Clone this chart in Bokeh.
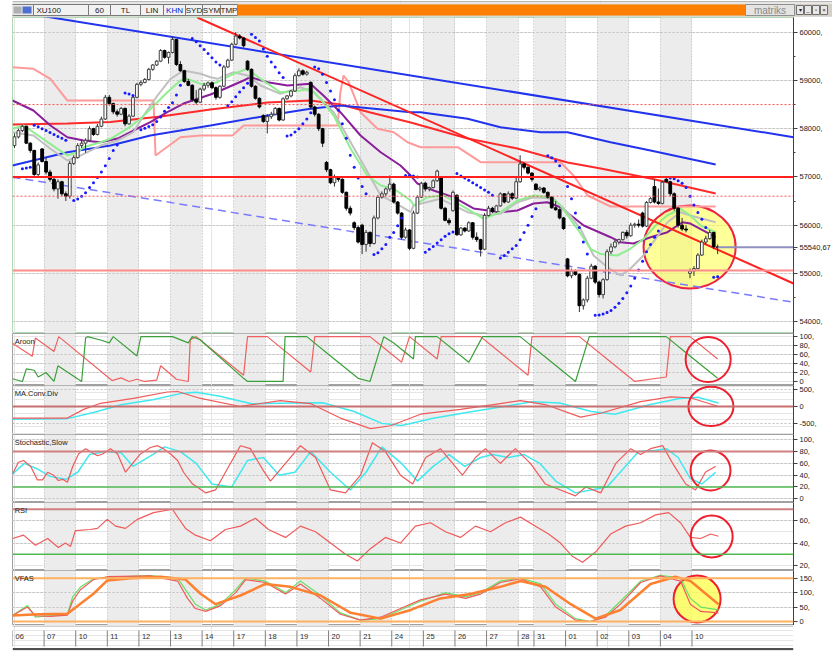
import numpy as np
from bokeh.plotting import figure
from bokeh.layouts import column
from bokeh.models import Range1d, FixedTicker, LinearAxis, Grid, BoxAnnotation, Span, Label
from bokeh.embed import file_html
from bokeh.resources import INLINE
from bokeh.core.properties import value

FONT = "Liberation Sans"

# ---------------- data ----------------
day_labels = ["06", "07", "10", "11", "12", "13", "14", "17", "18", "19", "20", "21",
              "24", "25", "26", "27", "28", "31", "01", "02", "03", "04", "10"]
day_start = [0, 8, 16, 24, 32, 40, 48, 56, 64, 72, 80, 88, 96, 104, 112, 120, 128,
             132, 140, 148, 156, 164, 172]

opens = [57650, 57830, 57960, 58050, 57700, 57550, 57050, 57580,
         57320, 57100, 56950, 56750, 56900, 56650, 56600, 57280,
         57400, 57650, 57700, 57760, 58000, 57880, 58050, 58200,
         58650, 58520, 58350, 58300, 58420, 58100, 58260, 58650,
         58920, 58960, 59020, 59230, 59320, 59400, 59620, 59480,
         59580, 59850, 59330, 59200, 58980, 58900, 58600, 58550,
         58820, 58900, 58950, 58850, 58650, 58880, 59280, 59420,
         59750, 59920, 59880, 59400, 59230, 58880, 58630, 58270,
         58150, 58250, 58300, 58420, 58180, 58620, 58680, 58780,
         59100, 59200, 59130, 58960, 58450, 58300, 58000, 57300,
         57150, 56880, 57000, 56950, 56680, 56350, 56050, 55950,
         56000, 55600, 55850, 55620, 56150, 56580, 56650, 56750,
         56850, 56480, 56250, 55750, 55900, 55520, 56250, 56580,
         56870, 56750, 56780, 56920, 57000, 56350, 56100, 56300,
         56620, 55800, 55940, 55880, 56050, 55750, 55700, 55500,
         56200, 56350, 56280, 56400, 56650, 56480, 56650, 56560,
         56900, 57270, 57200, 57080,
         56850, 56740, 56770, 56680, 56580, 56360, 56320, 56150,
         55300, 54950, 55050, 54980, 54330, 54450, 54900, 55150,
         54820, 54560, 54870, 55450, 55550, 55650, 55700, 55850,
         55780, 56000, 56020, 56250, 55980, 56470, 56800, 56480,
         56450, 56950, 56900, 56650, 56350, 56000, 55920, 55000,
         55050, 55100, 55380, 55650, 55720, 55850, 55550]
highs = [57900, 58000, 58080, 58060, 57720, 57560, 57300, 57600,
         57400, 57150, 57000, 56950, 56920, 56700, 57330, 57450,
         57700, 57760, 57800, 58050, 58020, 58100, 58250, 58700,
         58700, 58540, 58400, 58450, 58440, 58300, 58700, 58950,
         59000, 59050, 59260, 59340, 59420, 59650, 59640, 59600,
         59900, 59860, 59400, 59220, 59030, 58920, 58800, 58850,
         58950, 58980, 58980, 58880, 58900, 59320, 59450, 59780,
         60000, 59960, 59900, 59420, 59250, 58900, 58650, 58300,
         58300, 58350, 58450, 58440, 58650, 58700, 58800, 59150,
         59250, 59230, 59200, 58980, 58480, 58320, 58020, 57330,
         57170, 57050, 57020, 56970, 56700, 56400, 56080, 55990,
         56030, 55900, 55870, 56200, 56620, 56700, 56780, 57030,
         56880, 56500, 56270, 55950, 55920, 56300, 56620, 56900,
         56900, 56800, 56950, 57150, 57020, 56380, 56150, 56720,
         56640, 55960, 55960, 56080, 56060, 55850, 55720, 56250,
         56400, 56380, 56420, 56680, 56660, 56700, 56680, 56980,
         57450, 57300, 57220, 57100,
         56870, 56800, 56790, 56700, 56600, 56500, 56350, 56170,
         55320, 55100, 55080, 55000, 54480, 54950, 55200, 55170,
         54850, 54900, 55500, 55620, 55700, 55720, 55870, 55900,
         56050, 56050, 56120, 56280, 56500, 56580, 56950, 56760,
         56920, 56980, 56920, 56680, 56380, 56150, 56000, 55100,
         55150, 55420, 55700, 55780, 55900, 55860, 55600]
lows = [57600, 57800, 57930, 57680, 57500, 57000, 56980, 57300,
        57050, 56900, 56700, 56550, 56600, 56500, 56550, 57250,
        57380, 57600, 57500, 57740, 57850, 57860, 58030, 58180,
        58480, 58300, 58250, 58280, 58050, 58080, 58240, 58630,
        58880, 58940, 59000, 59200, 59300, 59380, 59450, 59350,
        59560, 59300, 59180, 58950, 58880, 58560, 58500, 58530,
        58780, 58850, 58820, 58600, 58620, 58860, 59260, 59400,
        59730, 59850, 59680, 59200, 58850, 58600, 58420, 58120,
        57900, 58200, 58280, 58150, 58160, 58600, 58650, 58760,
        59080, 59100, 59100, 58400, 58250, 57950, 57620, 57100,
        56850, 56800, 56900, 56650, 56300, 56200, 55900, 55620,
        55400, 55450, 55550, 55600, 56120, 56550, 56600, 56700,
        56450, 56220, 55700, 55720, 55480, 55500, 56230, 56560,
        56700, 56700, 56760, 56900, 56320, 56080, 56000, 56280,
        55780, 55780, 55850, 55860, 55700, 55650, 55350, 55480,
        56180, 56250, 56260, 56380, 56450, 56460, 56520, 56540,
        56880, 57150, 57050, 56900,
        56720, 56700, 56650, 56550, 56340, 56300, 56120, 55900,
        54920, 54900, 54950, 54200, 54250, 54400, 54880, 54780,
        54500, 54480, 54850, 55400, 55520, 55600, 55680, 55720,
        55760, 55950, 55950, 55950, 55960, 56450, 56450, 56420,
        56430, 56880, 56600, 56300, 55950, 55880, 55850, 54900,
        54950, 55080, 55360, 55600, 55700, 55500, 55400]
closes = [57830, 57960, 58050, 57700, 57550, 57050, 57250, 57320,
          57100, 56950, 56750, 56900, 56650, 56600, 57280, 57400,
          57650, 57700, 57760, 58000, 57880, 58050, 58200, 58650,
          58520, 58350, 58300, 58420, 58100, 58260, 58650, 58920,
          58960, 59020, 59230, 59320, 59400, 59620, 59480, 59580,
          59850, 59330, 59200, 58980, 58900, 58600, 58550, 58820,
          58900, 58950, 58850, 58650, 58880, 59280, 59420, 59750,
          59920, 59880, 59720, 59230, 58880, 58630, 58450, 58150,
          58250, 58300, 58420, 58180, 58620, 58680, 58780, 59100,
          59200, 59130, 59170, 58450, 58300, 58000, 57700, 57150,
          56880, 57000, 56950, 56680, 56350, 56250, 55950, 55650,
          55600, 55850, 55620, 56150, 56580, 56650, 56750, 56850,
          56480, 56250, 55750, 55900, 55520, 56250, 56580, 56870,
          56750, 56780, 56920, 57120, 56350, 56100, 56050, 56680,
          55800, 55940, 55880, 56050, 55750, 55700, 55500, 56200,
          56350, 56280, 56400, 56650, 56480, 56650, 56560, 56900,
          57270, 57200, 57080, 56950,
          56740, 56770, 56680, 56580, 56360, 56320, 56150, 55930,
          54950, 55050, 54980, 54330, 54450, 54900, 55150, 54820,
          54560, 54870, 55450, 55550, 55650, 55700, 55850, 55780,
          56000, 56020, 56000, 55980, 56470, 56550, 56480, 56450,
          56890, 56900, 56650, 56350, 56000, 55920, 55900, 55050,
          55100, 55380, 55650, 55720, 55850, 55550, 55540]
last_price = 55540.67

# moving averages (bar position, value)
green_ma_x = [-0.5, 2.3, 8.4, 10.9, 13.4, 15.9, 17.5, 21.8, 24.3, 28.5, 31.9, 35.3, 38.7, 42, 43.7,
              47.1, 49.6, 51.3, 55.5, 58.9, 62.3, 67.3, 72.4, 74.9, 77.5, 80.8, 85.1, 89.3, 92.7,
              96, 100.3, 101.1, 104.5, 108.7, 114.6, 118.8, 123, 127.3, 131.5, 135.7, 138.2,
              142.5, 145.8, 148.4, 152.6, 155.9, 159.3, 162.3, 165.2, 168.6, 171.1, 173.7, 177.5]
green_ma_y = [57997, 58066, 57720, 57583, 57444, 57512, 57616, 57720, 57790, 57997, 58205, 58481,
              58756, 58999, 59034, 58930, 58930, 58964, 59138, 59241, 59034, 58756, 58791, 58827,
              58619, 58273, 57583, 57029, 56822, 56754, 56511, 56408, 56580, 56615, 56339, 56132,
              56269, 56511, 56615, 56580, 56408, 55924, 55510, 55400, 55371, 55510, 55717, 55993,
              56200, 56339, 56200, 55993, 55854]
gray_ma_x = [-0.5, 4.8, 9.1, 13.4, 15.9, 21.8, 26.1, 30.1, 32.7, 36.2, 39.5, 42.8, 47.1, 49.6, 51.4,
             55.4, 59, 62.3, 67.3, 72.4, 75.7, 80.8, 85.1, 89.4, 92.7, 96, 100.3, 101, 107.8,
             114.7, 118.7, 123, 127.3, 131.4, 136.5, 140, 143.3, 146.6, 150.1, 153.4, 155.9,
             159.2, 162.3, 165.3, 168.6, 171.1, 177.5]
gray_ma_y = [57927, 57859, 57583, 57340, 57409, 57651, 57755, 57927, 58273, 58688, 59034, 59206,
             59138, 59067, 59034, 59171, 59102, 58895, 58723, 58860, 58756, 58342, 57720, 57098,
             56615, 56476, 56269, 56408, 56546, 56269, 56200, 56235, 56476, 56580, 56546, 56269,
             55924, 55371, 55129, 54956, 55095, 55371, 55717, 56061, 56269, 56200, 56061]
purple_ma_x = [-0.5, 4.8, 9.1, 13.4, 17.5, 21.8, 26.1, 30.1, 34.4, 38.7, 42.8, 49.6, 52.2, 58, 59.7,
               64.1, 69.1, 74.9, 78.2, 82.5, 87.6, 92.7, 97.7, 100.3, 102, 106.1, 111.1, 116.2,
               123, 127.3, 131.4, 134.9, 138.2, 144.1, 150.9, 153.4, 156.7, 161, 165.3, 169.1,
               171.1, 177.5]
purple_ma_y = [58584, 58377, 58066, 57823, 57755, 57720, 57796, 57962, 58134, 58342, 58522, 58709,
               58791, 58999, 59067, 58964, 58895, 58930, 58688, 58342, 57859, 57512, 57237, 57029,
               56863, 56718, 56580, 56346, 56269, 56304, 56449, 56476, 56372, 55993, 55750, 55647,
               55620, 55750, 55854, 56061, 56034, 55750]
red_ma_x = [-0.5, 13.4, 24.3, 37, 49.6, 64.1, 74.9, 82.5, 90.1, 100.3, 114.7, 127.3, 140, 148.4,
            161, 177.5]
red_ma_y = [58087, 58107, 58138, 58252, 58398, 58543, 58584, 58501, 58335, 58128, 57796, 57589,
            57299, 57175, 56967, 56656]
blue_ma_x = [-0.5, 13.4, 24.3, 34.4, 49.6, 64.1, 74.9, 82.5, 100.3, 102.8, 114.7, 123, 133.2, 140,
             150.9, 161, 177.5]
blue_ma_y = [57237, 57512, 57651, 57859, 58066, 58273, 58412, 58481, 58342, 58342, 58205, 58031,
             57927, 57927, 57720, 57548, 57257]
stop_x = [-0.5, 4.8, 9.1, 13.4, 35.2, 35.7, 42, 47.1, 55.2, 58, 81.8, 82.5, 83.3, 84.6, 87.6, 91.9,
          96, 99.5, 102.8, 112.2, 118, 138.2, 141.5, 145.1, 150.9, 177.5]
stop_y = [59274, 59241, 59034, 58584, 58584, 57444, 57823, 57859, 57859, 58066, 58066, 58756,
          59102, 58964, 58342, 57997, 57927, 57720, 57616, 57616, 57305, 57305, 57029, 56615,
          56387, 56387]

# parabolic SAR segments: first bar and consecutive values
sar_start = [2, 5, 15, 28, 32, 45, 54, 60, 69, 76, 91, 99, 104, 112, 123, 135, 147, 166, 177]
sar_vals = [
    [57170, 57185, 57200],
    [58070, 58040, 58000, 57960, 57920, 57880, 57840, 57800, 57760],
    [56510, 56540, 56600, 56670, 56780, 56880, 56990, 57100, 57230, 57380, 57550, 57660],
    [58740, 58720, 58690],
    [57980, 58010, 58045, 58080, 58150, 58240, 58360, 58440, 58540, 58700, 58900],
    [59870, 59800, 59720, 59640, 59560, 59470, 59380, 59320],
    [58480, 58560, 58660, 58760, 58850, 58940],
    [59960, 59890, 59820, 59650, 59500, 59380, 59280, 59160, 59060],
    [57850, 57870, 57930, 58000, 58100, 58200, 58330],
    [59280, 59240, 59130, 58960, 58780, 58600, 58380, 58100, 57800, 57450, 57200, 56980, 56800, 56650],
    [55390, 55430, 55510, 55600, 55750, 55850, 55990, 56150],
    [57030, 57030, 57020, 57000],
    [55440, 55500, 55560, 55630, 55700, 55770, 55820, 55860],
    [57070, 57020, 56980, 56930, 56880, 56830, 56780, 56730, 56680, 56620],
    [55320, 55370, 55440, 55510, 55580, 55700, 55850, 56000, 56180, 56340],
    [57440, 57400, 57330, 57230, 57000, 56800, 56550, 56250, 55950, 55650, 55400],
    [54130, 54140, 54160, 54190, 54230, 54300, 54380, 54480, 54600, 54740, 54900, 55070, 55250,
     55450, 55600, 55750, 55880],
    [56980, 56960, 56920, 56870, 56780, 56600, 56420, 56260, 56120, 55950],
    [54920, 54930],
]

# trend lines (bar, value) end points
blue_trend = ([6.0, 197.2], [60350, 57824])
red_trend = ([46.3, 197.2], [60305, 54790])
blue_dash_trend = ([-0.5, 197.2], [56994, 54403])
red_level = 57000
pink_level = 55060
dotted_levels = [58500, 56600]

# indicators
aroon_dn_x = [-0.5, 4.5, 5.3, 10, 11.2, 24.7, 27, 29, 31, 33, 36, 37, 41, 44, 44.5, 46, 58, 59, 64, 75,
              76, 90, 92, 98, 100, 107, 108, 118, 123, 130, 131, 143, 150, 157, 165, 166, 171, 178]
aroon_dn_y = [85, 56, 97, 67, 100, 2, 8, 0, 5, 0, 3, 35, 5, 0, 93, 100, 14, 100, 100, 21,
              100, 100, 86, 43, 100, 50, 100, 100, 64, 14, 100, 100, 50, 0, 10, 100, 100, 50]
aroon_up_x = [-0.5, 2, 3, 5, 6, 8, 10, 11, 17, 18, 18.5, 22, 24, 25, 31, 32, 40, 44, 45, 47,
              58, 59, 68, 68.5, 74, 80, 87, 90, 93.5, 96, 101, 101.5, 107, 115, 118.5, 128, 135, 142,
              145.5, 165, 171, 178]
aroon_up_y = [6, 0, 28, 25, 10, 20, 0, 35, 0, 97, 100, 92, 86, 100, 57, 100, 100, 86, 100, 93,
              7, 0, 0, 100, 100, 57, 7, 0, 100, 86, 50, 100, 100, 43, 100, 100, 50, 0,
              100, 100, 57, 7]
macd_x = [-0.5, 13.4, 17.5, 21.8, 30.1, 38.7, 41.3, 47.1, 57.2, 67.3, 74.9, 82.5, 90.1, 95.2, 102.8,
          112.9, 123, 128.1, 134.4, 143.3, 148.4, 158.5, 166.1, 171.1, 178.2]
macd_y = [-343, -343, -86, 94, 237, 428, 443, 237, 0, 171, 86, -343, -657, -571, -229, -86, 86,
          171, 57, -314, -200, 143, 286, 257, 0]
signal_x = [-0.5, 13.4, 20, 27, 35, 42, 46, 52, 60, 70, 78, 86, 93, 98, 106, 116, 125, 131, 138, 146,
            152, 161, 168, 173, 178.2]
signal_y = [-380, -360, -180, 50, 200, 380, 420, 300, 80, 100, 110, -150, -500, -560, -350, -150,
            20, 140, 100, -150, -230, 60, 230, 270, 100]
stoch_k_x = [-0.5, 1, 2.3, 4.1, 5.8, 7.1, 8.4, 9.9, 11.1, 12.2, 13.4, 14.7, 16.2, 18, 19.2, 21, 22.3,
             24.3, 26.1, 28.1, 29.9, 31.9, 34.4, 36.2, 37.7, 39.5, 41.3, 42.8, 45.1, 46.3, 48.4, 50.9,
             53.4, 57.2, 59.7, 62.8, 64.8, 68.6, 72.4, 76.2, 80, 83.8, 87.6, 90.6, 93.9, 97.7, 100.8,
             104.1, 107.8, 110.9, 113.4, 116.7, 119.2, 123, 126.8, 130.6, 134.4, 138.2, 142, 144.6,
             148.4, 152.2, 156, 158.5, 161, 164.1, 166.6, 169.9, 172.4, 174.9, 177.5]
stoch_k_y = [42, 62, 65, 55, 32, 32, 45, 40, 31, 33, 28, 54, 76, 85, 80, 73, 76, 85, 76, 45,
             60, 76, 87, 90, 85, 76, 65, 45, 25, 20, 10, 15, 45, 90, 85, 50, 30, 60, 90, 70,
             15, 10, 40, 95, 80, 40, 25, 70, 85, 60, 40, 70, 85, 60, 85, 60, 25, 15, 5, 20,
             10, 60, 85, 75, 85, 90, 60, 25, 15, 45, 55]
stoch_d_x = [-0.5, 2.5, 6, 9, 13, 16, 19, 23, 27, 30, 35, 38, 42, 46, 50, 55, 59, 63, 67, 71,
             75, 80, 85, 89, 93, 98, 102, 106, 110, 114, 118, 121, 125, 129, 133, 137, 142, 146,
             150, 154, 158, 162, 165, 168, 171, 174, 177.5]
stoch_d_y = [42, 60, 50, 38, 33, 45, 75, 80, 78, 55, 75, 88, 80, 60, 25, 20, 65, 70, 40, 45,
             80, 45, 15, 45, 88, 60, 30, 55, 75, 55, 70, 75, 70, 75, 60, 30, 10, 15, 20, 50,
             80, 82, 85, 70, 35, 25, 45]
rsi_x = [-0.5, 2.3, 5.3, 8.4, 11.1, 12.9, 14.2, 15.4, 19.2, 21, 23.5, 25.6, 28.1, 31.1, 35.2, 40,
         41.5, 43.3, 45.8, 49.6, 53.4, 57.2, 61, 64.3, 68.6, 72.4, 76.2, 80, 83.8, 86.8, 90.1,
         93.9, 97.7, 101.5, 105.3, 109.1, 112.9, 116.7, 120.5, 124.3, 128.1, 131.9, 135.2, 138.2,
         141.3, 143.8, 147.1, 150.9, 154.7, 158.5, 162.3, 165.6, 168.6, 171.1, 173.7, 176.2, 178.2]
rsi_y = [44, 47, 38, 44, 36, 40, 37, 51, 52, 53, 61, 55, 53, 61, 67, 70, 62, 53, 47, 42,
         52, 55, 62, 52, 45, 55, 50, 40, 30, 24, 35, 45, 40, 55, 58, 50, 45, 55, 50, 58,
         63, 55, 48, 40, 28, 23, 32, 48, 55, 58, 65, 67, 58, 45, 44, 48, 46]
vfas_x = [-0.5, 3.3, 5.3, 9.1, 13.4, 14.7, 16.7, 20, 23.5, 34.4, 41.3, 43.8, 45.8, 48.4, 52.2, 56,
          58.5, 63.5, 68.6, 72.4, 77.5, 82.5, 87.6, 92.7, 97.7, 102.8, 109.1, 114.2, 118, 123,
          128.1, 133.2, 137, 142, 145.8, 149.6, 153.4, 158.5, 163.5, 168.6, 171.1, 173.7, 178.2]
vfas_green = [21, 55, 15, 20, 25, 84, 119, 148, 153, 159, 150, 100, 60, 40, 60, 110, 150, 140,
              100, 140, 90, 30, 5, 10, 40, 70, 100, 85, 100, 140, 150, 130, 60, 10, 0, 20, 70,
              140, 160, 150, 80, 50, 40]
vfas_red = [21, 50, 20, 18, 22, 70, 110, 145, 155, 158, 140, 80, 45, 35, 55, 100, 145, 135, 95,
            130, 80, 25, 5, 15, 45, 75, 95, 80, 95, 135, 148, 120, 50, 5, 0, 15, 60, 135, 158,
            140, 60, 35, 30]
vfas_avg_x = [-0.5, 6.3, 13.4, 20, 23.5, 29.4, 37, 43.3, 47.1, 50.9, 57.2, 63.5, 69.8, 77.5, 85.1,
              92.7, 100.3, 107.8, 115.4, 123, 128.1, 134.4, 140.8, 147.1, 153.4, 161, 167.3,
              171.1, 178.2]
vfas_avg_y = [21, 25, 27, 96, 142, 150, 155, 145, 96, 60, 90, 130, 120, 90, 30, 10, 40, 80, 95,
              120, 140, 120, 60, 10, 40, 130, 155, 140, 60]

# ---------------- layout constants ----------------
FRAME_W = 781
LEFT = 12
XR = Range1d(-0.5, 197.2)
BAR_END = 180


def base_panel(h, y0, y1, outline="#a0a0a0"):
    p = figure(frame_width=FRAME_W, frame_height=h, x_range=XR, y_range=Range1d(y0, y1),
               output_backend="svg", toolbar_location=None,
               x_axis_location=None, y_axis_location=None,
               min_border_left=LEFT, min_border_right=0, min_border_top=0, min_border_bottom=0)
    p.outline_line_color = outline
    p.background_fill_color = "white"
    p.border_fill_color = "white"
    for k in range(len(day_start)):
        if k % 2 == 1:
            right = day_start[k + 1] if k + 1 < len(day_start) else BAR_END
            p.add_layout(BoxAnnotation(left=day_start[k] - 0.5, right=right - 0.5,
                                       fill_color="#ececec", fill_alpha=1.0, line_alpha=0,
                                       level="underlay"))
    p.add_layout(Grid(dimension=0, ticker=FixedTicker(ticks=[s - 0.5 for s in day_start]),
                      grid_line_color="#b4b4b4", grid_line_dash="1 2"))
    return p


def add_right_axis(p, ticks, labels, grid_ticks, minor=None):
    ax = LinearAxis(ticker=FixedTicker(ticks=ticks, minor_ticks=minor or []),
                    major_label_overrides={t: l for t, l in zip(ticks, labels)},
                    axis_line_color="#404040", major_tick_line_color="#404040",
                    minor_tick_line_color="#404040",
                    major_tick_out=4, major_tick_in=0, minor_tick_out=2, minor_tick_in=0,
                    major_label_standoff=2, major_label_text_font=FONT,
                    major_label_text_font_size="7.5px", major_label_text_color="#202020")
    p.add_layout(ax, "right")
    p.add_layout(Grid(dimension=1, ticker=FixedTicker(ticks=grid_ticks),
                      grid_line_color="#c0c0c0", grid_line_dash="2 2"))


def panel_title(p, text, y):
    p.add_layout(Label(x=-0.2, y=y, text=text, text_font=FONT, text_font_size="7.5px",
                       text_color="#202020", text_baseline="top", x_offset=1, y_offset=-3))


# ---------------- toolbar (frame aligned with the panels' left edge) ----------------
tb = figure(frame_width=820, frame_height=17, x_range=Range1d(LEFT, 832), y_range=Range1d(17, 0),
            output_backend="svg", toolbar_location=None, x_axis_location=None,
            y_axis_location=None, min_border_left=LEFT, min_border_right=0,
            min_border_top=0, min_border_bottom=0)
tb.outline_line_color = None
tb.background_fill_color = "white"
tb.border_fill_color = "white"
tb.line([0, 832], [1, 1], line_color="#707070", line_dash="1 1")
tb.quad(left=[0], right=[832], top=[3], bottom=[16], fill_color="#d4d0c8", line_color=None)
tool_names = ["XU100", "60", "TL", "LIN", "KHN", "SYD", "SYM", "TMP"]
tool_edges = [33, 88, 110, 140, 163, 185, 202, 220, 237]
tb.quad(left=[9], right=[33], top=[4], bottom=[15], fill_color="#e8e8e8", line_color="#808080")
tb.quad(left=[13], right=[21], top=[6], bottom=[13], fill_color="#b0b0b0", line_color=None)
tb.quad(left=[22], right=[31], top=[6], bottom=[13], fill_color="#5070d0", line_color=None)
tb.quad(left=tool_edges[:-1], right=tool_edges[1:], top=[4] * 8, bottom=[15] * 8,
        fill_color="#f2f2f2", line_color="#7a7a7a")
tb.text(x=[36], y=[9.8], text=["XU100"], text_font=value(FONT), text_font_size="8px",
        text_baseline="middle", text_color="#202020")
cx = [(a + b) / 2 for a, b in zip(tool_edges[1:-1], tool_edges[2:])]
tb.text(x=cx, y=[9.8] * 7, text=tool_names[1:], text_font=value(FONT), text_font_size="8px",
        text_baseline="middle", text_align="center",
        text_color=["#202020", "#202020", "#202020", "#0020d0", "#202020", "#202020", "#202020"])
tb.quad(left=[237], right=[745], top=[4], bottom=[15], fill_color="#ff8000", line_color=None)
tb.quad(left=[745], right=[794], top=[4], bottom=[15], fill_color="#e4e4e4", line_color="#909090")
tb.text(x=[769.5], y=[10], text=["matriks"], text_font=value(FONT), text_font_size="10px",
        text_baseline="middle", text_align="center", text_color="#8a8a8a")
tb.quad(left=[796, 804, 812, 820], right=[803, 811, 819, 827], top=[5] * 4, bottom=[14] * 4,
        fill_color="#e8e8e8", line_color="#707070")
tb.text(x=[799.5, 807.5, 815.5, 823.5], y=[9.8] * 4, text=["▾", "_", "▫", "×"],
        text_font=value(FONT), text_font_size="6px", text_baseline="middle", text_align="center",
        text_color="#202020")

# ---------------- main price panel ----------------
main = base_panel(316, 53754, 60305, outline="#b0dab0")
add_right_axis(main,
               [54000, 55000, 55541, 56000, 57000, 58000, 59000, 60000],
               ["54000,", "55000,", "55540,67", "56000,", "57000,", "58000,", "59000,", "60000,"],
               [54000, 55000, 56000, 57000, 58000, 59000, 60000],
               minor=[54500, 55500, 56500, 57500, 58500, 59500])

circ = main.ellipse(x=[170.9], y=[55547], width=23.3, height=1720, fill_color="#ffff55",
                    fill_alpha=0.6, line_color="#ee2244", line_width=2)
main.add_layout(Span(location=red_level, dimension="width", line_color="#ff2020", line_width=2))
main.add_layout(Span(location=pink_level, dimension="width", line_color="#ff8c8c", line_width=2))
for lv in dotted_levels:
    main.add_layout(Span(location=lv, dimension="width", line_color="#ff5050", line_width=1,
                         line_dash="2 2"))

main.line(stop_x, stop_y, line_color="#ff9a9a", line_width=2)
main.line(blue_dash_trend[0], blue_dash_trend[1], line_color="#7a7aff", line_width=1.5,
          line_dash="8 5")
main.line(red_ma_x, red_ma_y, line_color="#ff2a2a", line_width=2)
main.line(blue_ma_x, blue_ma_y, line_color="#2233ee", line_width=2)
main.line(purple_ma_x, purple_ma_y, line_color="#8a1f9a", line_width=2)
main.line(gray_ma_x, gray_ma_y, line_color="#c0c0c0", line_width=2)
main.line(green_ma_x, green_ma_y, line_color="#90ee90", line_width=2)
main.line(blue_trend[0], blue_trend[1], line_color="#2233ee", line_width=2)
main.line(red_trend[0], red_trend[1], line_color="#ff2020", line_width=2)

bars = np.arange(len(closes))
o = np.array(opens, dtype=float)
c = np.array(closes, dtype=float)
up = c >= o
main.segment(x0=bars, y0=highs, x1=bars, y1=lows, line_color="#303030", line_width=1)
main.vbar(x=bars[up], width=0.7, top=c[up], bottom=o[up], fill_color="white",
          line_color="#404040", line_width=1)
main.vbar(x=bars[~up], width=0.7, top=o[~up], bottom=c[~up], fill_color="black",
          line_color="black", line_width=1)

sar_x, sar_y = [], []
for s, vals in zip(sar_start, sar_vals):
    for j, v in enumerate(vals):
        sar_x.append(s + j)
        sar_y.append(v)
main.scatter(sar_x, sar_y, size=3, marker="circle", fill_color="#1a1aff", line_color=None)

main.line([len(closes) - 1, 197.2], [last_price, last_price], line_color="#9090c0", line_width=2)

# ---------------- Aroon ----------------
pa = base_panel(52, -9, 107)
add_right_axis(pa, [0, 20, 40, 60, 80, 100], ["0", "20,", "40,", "60,", "80,", "100,"],
               [20, 40, 60, 80])
pa.line(aroon_dn_x, aroon_dn_y, line_color="#f06060", line_width=1.2)
pa.line(aroon_up_x, aroon_up_y, line_color="#3aa03a", line_width=1.2)
pa.ellipse(x=[175.6], y=[49], width=11.4, height=100, fill_color=None, line_color="#ee2030",
           line_width=2)
panel_title(pa, "Aroon", 107)

# ---------------- MACD ----------------
pm = base_panel(49, -829, 620)
add_right_axis(pm, [-500, 0, 500], ["-500,", "0", "500,"], [-500, 500])
pm.add_layout(Span(location=0, dimension="width", line_color="#c87070", line_width=2))
pm.line(signal_x, signal_y, line_color="#40e8f0", line_width=1.5)
pm.line(macd_x, macd_y, line_color="#f05a5a", line_width=1.2)
pm.ellipse(x=[176.3], y=[0], width=11.4, height=1160, fill_color=None, line_color="#ee2030",
           line_width=2)
panel_title(pm, "MA.Conv.Div", 620)

# ---------------- Stochastic ----------------
ps = base_panel(68, -6.3, 109)
add_right_axis(ps, [0, 20, 40, 60, 80, 100], ["0", "20,", "40,", "60,", "80,", "100,"],
               [0, 40, 60, 100])
ps.add_layout(Span(location=80, dimension="width", line_color="#d08080", line_width=2))
ps.add_layout(Span(location=20, dimension="width", line_color="#50b850", line_width=1.5))
ps.line(stoch_d_x, stoch_d_y, line_color="#40e8f0", line_width=1.5)
ps.line(stoch_k_x, stoch_k_y, line_color="#f05a5a", line_width=1.2)
ps.ellipse(x=[176.2], y=[48], width=10.1, height=68, fill_color=None, line_color="#ee2030",
           line_width=2)
panel_title(ps, "Stochastic,Slow", 109)

# ---------------- RSI ----------------
pr = base_panel(68, 15.6, 76)
add_right_axis(pr, [20, 40, 60], ["20,", "40,", "60,"], [40, 60])
pr.add_layout(Span(location=70, dimension="width", line_color="#d08080", line_width=2))
pr.add_layout(Span(location=30, dimension="width", line_color="#50b850", line_width=1.5))
pr.line(rsi_x, rsi_y, line_color="#f05a5a", line_width=1.2)
pr.ellipse(x=[176.5], y=[45.8], width=10.6, height=37.3, fill_color=None, line_color="#ee2030",
           line_width=2)
panel_title(pr, "RSI", 76)

# ---------------- VFAS ----------------
pv = base_panel(55, -13.8, 176.5)
add_right_axis(pv, [0, 50, 100, 150], ["0", "50,", "100,", "150,"], [50, 100])
pv.add_layout(Span(location=150, dimension="width", line_color="#ffb060", line_width=2))
pv.add_layout(Span(location=0, dimension="width", line_color="#ffb060", line_width=2))
pv.ellipse(x=[172.8], y=[77.9], width=11.9, height=162, fill_color="#ffff55", fill_alpha=0.8,
           line_color="#ee2030", line_width=2)
pv.line(vfas_x, vfas_green, line_color="#66e066", line_width=1.2)
pv.line(vfas_x, vfas_red, line_color="#f05a5a", line_width=1.2)
pv.line(vfas_avg_x, vfas_avg_y, line_color="#ff8030", line_width=2.5)
panel_title(pv, "VFAS", 176.5)

# ---------------- date axis ----------------
xf = figure(frame_width=FRAME_W, frame_height=26, x_range=XR, y_range=Range1d(26, 0),
            output_backend="svg", toolbar_location=None, x_axis_location=None,
            y_axis_location=None, min_border_left=LEFT, min_border_right=39,
            min_border_top=0, min_border_bottom=0)
xf.outline_line_color = None
xf.background_fill_color = "white"
xf.border_fill_color = "white"
tick_x = [s - 0.5 for s in day_start]
n = len(tick_x)
xf.segment(x0=tick_x, y0=[5] * n, x1=tick_x, y1=[21] * n, line_color="#808080", line_width=1)
xf.text(x=tick_x, y=[11] * n, text=day_labels, x_offset=3, text_font=value(FONT),
        text_font_size="7.5px", text_baseline="middle", text_color="#303030")
xf.add_layout(Span(location=23.5, dimension="width", line_color="#505050", line_width=2))
xf.add_layout(Span(location=0.5, dimension="width", line_color="#a0a0a0", line_width=1))

layout = column(tb, main, pa, pm, ps, pr, pv, xf, spacing=0)
open("out.html", "w").write(file_html(layout, INLINE))
